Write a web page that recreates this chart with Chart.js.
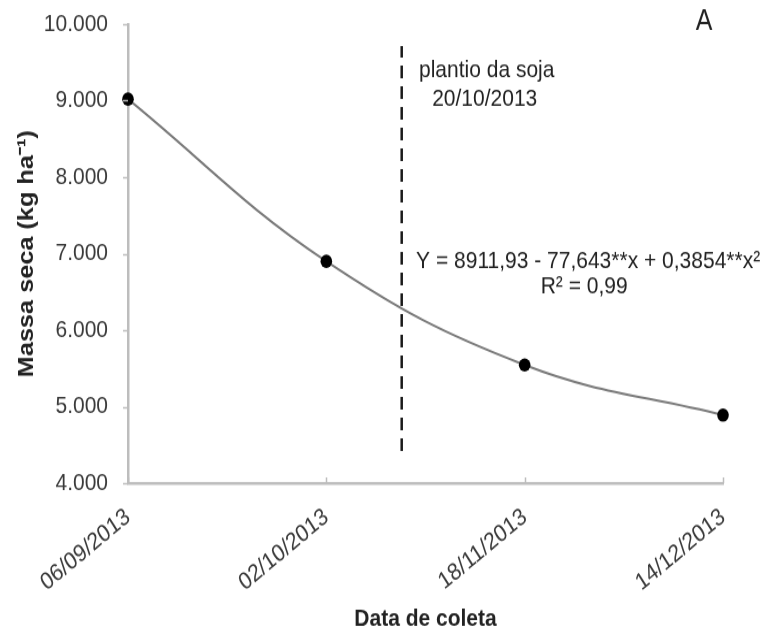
<!DOCTYPE html>
<html>
<head>
<meta charset="utf-8">
<script src="https://cdn.jsdelivr.net/npm/chart.js@4/dist/chart.umd.min.js"></script>
<style>
  html, body { margin: 0; padding: 0; background: #fff; width: 762px; height: 635px; overflow: hidden; }
  #page { position: relative; width: 762px; height: 635px; }
  /* the figure is drawn on a shorter canvas and stretched to full height */
  #wrap { position: absolute; left: 0; top: 0; width: 762px; height: 552px; transform: scaleY(1.15036); transform-origin: 0 0; }
</style>
</head>
<body>
<div id="page"><div id="wrap"><canvas id="c" width="762" height="552"></canvas></div></div>
<script>
// Sampling dates (x categories, evenly spaced positions 0..3)
const dates = ['06/09/2013', '02/10/2013', '18/11/2013', '14/12/2013'];
// Dry mass (kg ha-1) at each sampling date
const drymass = [9020, 6900, 5545, 4890];
// Soybean sowing marker: position between 02/10 and 18/11, and its vertical extent
const sowingPos = 1.38;
const sowingRange = [4420, 9715];
// Axis ticks
const yTicks = [4000, 5000, 6000, 7000, 8000, 9000, 10000];

const FONT = "'Liberation Sans', Arial, sans-serif";
const AXIS_GRAY = '#bdbdbd';

const fmt = v => (v / 1000).toFixed(0) + '.000';

// Small tick marks: outward on the y axis, inward on the x axis
const tickMarks = {
  id: 'tickMarks',
  afterDatasetsDraw(chart) {
    const { ctx, chartArea, scales } = chart;
    ctx.save();
    ctx.strokeStyle = AXIS_GRAY;
    ctx.lineWidth = 1.5;
    yTicks.forEach(v => {
      const y = Math.round(scales.y.getPixelForValue(v)) + 0.5;
      ctx.beginPath();
      ctx.moveTo(chartArea.left - 5, y);
      ctx.lineTo(chartArea.left, y);
      ctx.stroke();
    });
    dates.forEach((d, i) => {
      const x = Math.round(scales.x.getPixelForValue(i)) + 0.5;
      ctx.beginPath();
      ctx.moveTo(x, chartArea.bottom);
      ctx.lineTo(x, chartArea.bottom - 5);
      ctx.stroke();
    });
    ctx.restore();
  }
};

// Text annotations: sowing date, regression equation, panel letter
const annotations = {
  id: 'annotations',
  afterDraw(chart) {
    const { ctx, chartArea, scales } = chart;
    const lx = scales.x.getPixelForValue(sowingPos);
    ctx.save();
    ctx.fillStyle = '#222';
    ctx.textAlign = 'center';
    ctx.textBaseline = 'middle';
    ctx.font = '21px ' + FONT;
    ctx.fillText('plantio da soja', lx + 85, 61);
    ctx.fillText('20/10/2013', lx + 83, 86);
    const ex = scales.x.getPixelForValue(2.32);
    ctx.fillText('Y = 8911,93 - 77,643**x + 0,3854**x\u00B2', ex, 227);
    ctx.fillText('R\u00B2 = 0,99', ex - 4, 249.5);
    ctx.font = '25px ' + FONT;
    ctx.fillText('A', chartArea.right - 19, 19.5);
    ctx.restore();
  }
};

new Chart(document.getElementById('c'), {
  type: 'line',
  data: {
    datasets: [
      {
        label: 'Massa seca',
        data: drymass.map((v, i) => ({ x: i, y: v })),
        borderColor: '#7a7a7a',
        borderWidth: 2,
        tension: 0.4,
        pointRadius: 5.8,
        pointBackgroundColor: '#000',
        pointBorderColor: '#000',
        pointBorderWidth: 0,
        clip: false
      },
      {
        label: 'plantio',
        data: sowingRange.map(v => ({ x: sowingPos, y: v })),
        borderColor: '#1a1a1a',
        borderWidth: 2.5,
        borderDash: [11, 7],
        pointRadius: 0,
        clip: false
      }
    ]
  },
  options: {
    responsive: false,
    animation: false,
    events: [],
    layout: { padding: { left: 0, right: 39, top: 21, bottom: 0 } },
    plugins: { legend: { display: false }, tooltip: { enabled: false } },
    scales: {
      x: {
        type: 'linear',
        min: 0,
        max: 3,
        afterFit: s => { s.height = 132; s.paddingLeft = 0; s.paddingRight = 0; },
        afterBuildTicks: s => { s.ticks = dates.map((d, i) => ({ value: i })); },
        grid: { display: false, drawTicks: false },
        border: { display: true, color: AXIS_GRAY, width: 2.5 },
        ticks: {
          autoSkip: false,
          minRotation: 36,
          maxRotation: 36,
          padding: 17,
          color: '#3a3a3a',
          font: { family: FONT, size: 21 },
          callback: v => dates[v]
        },
        title: {
          display: true,
          text: 'Data de coleta',
          color: '#222',
          font: { family: FONT, size: 21, weight: 'bold' },
          padding: { top: 0, bottom: 1.5 }
        }
      },
      y: {
        min: 4000,
        max: 10000,
        afterFit: s => { s.width = 128; s.paddingTop = 0; s.paddingBottom = 0; },
        afterBuildTicks: s => { s.ticks = yTicks.map(v => ({ value: v })); },
        grid: { display: false, drawTicks: false },
        border: { display: true, color: AXIS_GRAY, width: 2.5 },
        ticks: {
          padding: 20,
          color: '#3a3a3a',
          font: { family: FONT, size: 21 },
          callback: v => fmt(v)
        },
        title: {
          display: true,
          text: 'Massa seca (kg ha\u207B\u00B9)',
          color: '#222',
          font: { family: FONT, size: 22, weight: 'bold' },
          padding: { top: 14, bottom: 0 }
        }
      }
    }
  },
  plugins: [tickMarks, annotations]
});
</script>
</body>
</html>
